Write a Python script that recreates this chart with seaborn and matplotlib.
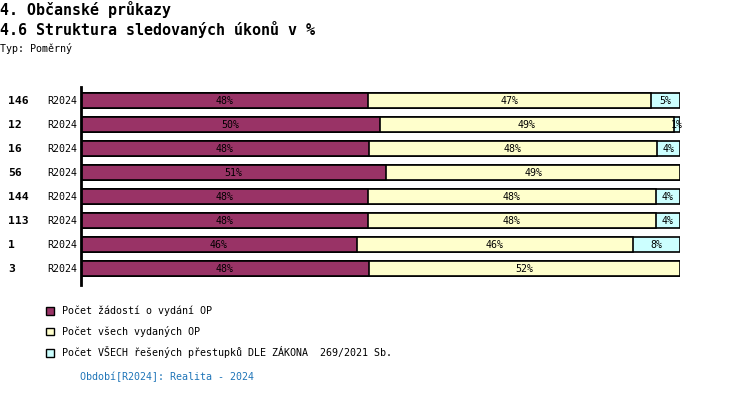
"""
Struktura sledovaných úkonů v % - občanské průkazy, období R2024
"""

## Import packages
import numpy as np
import pandas as pd
import matplotlib.pyplot as plt
import seaborn as sns
from matplotlib.patches import Patch


## Data
# Row codes (bold labels) and period
codes = ['146', '12', '16', '56', '144', '113', '1', '3']
period = 'R2024'

# Shares of the three series in %
zadosti = [47.9, 49.9, 48.0, 51.0, 47.9, 47.9, 46.0, 48.0]
vydane = [47.2, 49.1, 48.1, 49.0, 48.1, 48.1, 46.1, 52.0]
prestupky = [4.9, 1.0, 3.9, 0.0, 4.0, 4.0, 7.9, 0.0]

# Series names for the legend
series = ['Počet žádostí o vydání OP',
          'Počet všech vydaných OP',
          'Počet VŠECH řešených přestupků DLE ZÁKONA  269/2021 Sb.']


## Prepare data
df = pd.DataFrame({'code': codes, 's1': zadosti, 's2': vydane, 's3': prestupky})
df['c1'] = df['s1']
df['c2'] = df['s1'] + df['s2']
df['c3'] = df['c2'] + df['s3']


## Figure parameters
colors = ['#993366', '#FFFFCC', '#CCFFFF']
mono = 'DejaVu Sans Mono'
small = 7.2
large = 10.8
W, H = 750, 394


## Create figure
sns.set_theme(style='white')
plt.rcParams['font.family'] = [mono, 'DejaVu Sans']
plt.rcParams['text.color'] = 'black'
plt.rcParams['ytick.color'] = 'black'

fig = plt.figure(figsize=(W / 100, H / 100), dpi=100)
ax = fig.add_axes([81 / W, 1 - 285 / H, 599 / W, 198 / H])

# Stacked bars drawn as overlaid cumulative bars (largest first)
for col, c in zip(['c3', 'c2', 'c1'], colors[::-1]):
    sns.barplot(data=df, x=col, y='code', order=codes, orient='h', ax=ax,
                color=c, saturation=1, width=0.625, edgecolor='black',
                linewidth=1.2)

# Labels in the middle of each segment
for i, row in df.iterrows():
    left = 0
    for s in ['s1', 's2', 's3']:
        v = row[s]
        if v > 0:
            ax.text(left + v / 2, i, f'{round(v)}%', ha='center',
                    va='center_baseline', fontsize=small, color='black')
        left += v

# Axis styling
ax.set_xlim(0, 100)
ax.set_ylim(7.7, -0.55)
ax.set_xlabel('')
ax.set_ylabel('')
ax.set_xticks([])
for side in ['top', 'right', 'bottom']:
    ax.spines[side].set_visible(False)
ax.spines['left'].set_linewidth(2)
ax.spines['left'].set_color('black')
ax.set_yticks(range(len(codes)))
ax.set_yticklabels([period] * len(codes), fontsize=small, color='black')
ax.tick_params(axis='y', length=0, pad=3)

# Bold row codes
tr = ax.get_yaxis_transform()
for i, code in enumerate(codes):
    ax.text((8 - 81) / 599, i, code, transform=tr, ha='left',
            va='center_baseline', fontsize=8.2, fontweight='bold')


## Titles
fig.text(0 / W, 1 - 9 / H, '4. Občanské průkazy', fontsize=large,
         fontweight='bold', va='center')
fig.text(0 / W, 1 - 30 / H, '4.6 Struktura sledovaných úkonů v %', fontsize=large,
         fontweight='bold', va='center')
fig.text(0 / W, 1 - 49 / H, 'Typ: Poměrný', fontsize=small, va='center')


## Legend
handles = [Patch(facecolor=c, edgecolor='black', linewidth=1) for c in colors]
fig.legend(handles=handles, labels=series, loc='upper left',
           bbox_to_anchor=(42 / W, 1 - 302 / H), frameon=False,
           fontsize=small, handlelength=0.75, handleheight=0.75,
           handletextpad=0.9, labelspacing=0.95, borderaxespad=0)

# Period footer
fig.text(80 / W, 1 - 377 / H, 'Období[R2024]: Realita - 2024', fontsize=small,
         va='center', color='#1f75b8')

plt.savefig('out.png', dpi=100)
